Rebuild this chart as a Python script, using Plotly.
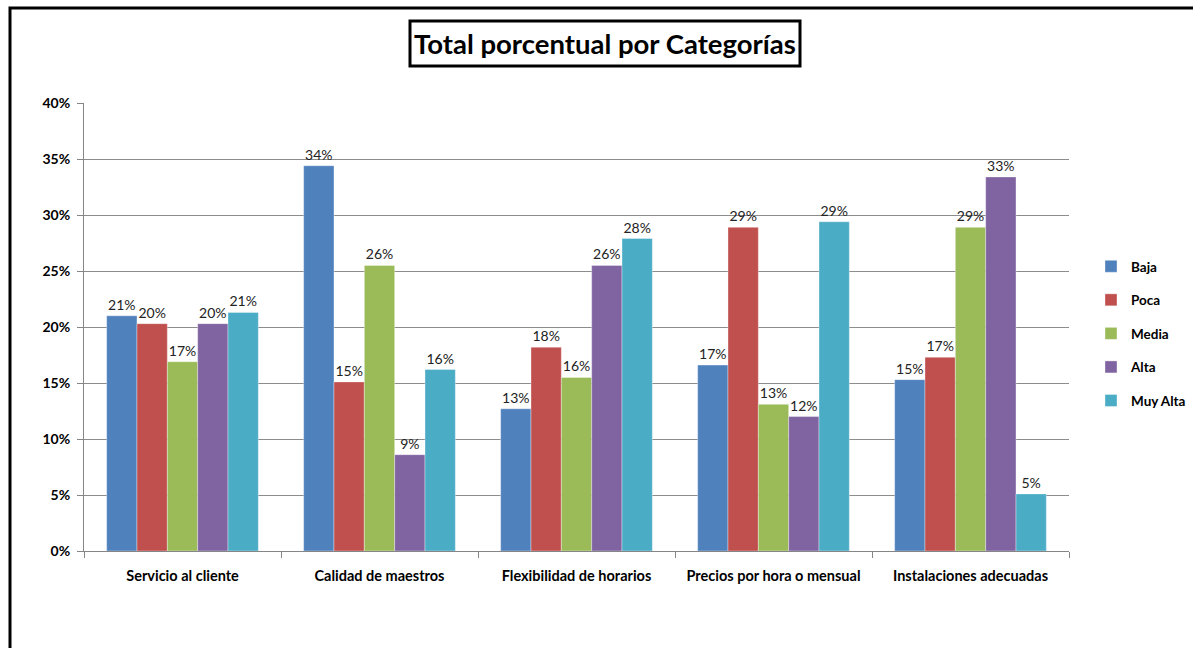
import plotly.graph_objects as go

categories = ["Servicio al cliente", "Calidad de maestros", "Flexibilidad de horarios",
              "Precios por hora o mensual", "Instalaciones adecuadas"]
series_names = ["Baja", "Poca", "Media", "Alta", "Muy Alta"]
baja = [0.210, 0.344, 0.127, 0.166, 0.153]
poca = [0.203, 0.151, 0.182, 0.289, 0.173]
media = [0.169, 0.255, 0.155, 0.131, 0.289]
alta = [0.203, 0.086, 0.255, 0.120, 0.334]
muy_alta = [0.213, 0.162, 0.279, 0.294, 0.051]
series_values = [baja, poca, media, alta, muy_alta]
colors = ["#4F81BD", "#C0504D", "#9BBB59", "#8064A2", "#4BACC6"]
y_ticks = [0, 0.05, 0.10, 0.15, 0.20, 0.25, 0.30, 0.35, 0.40]

FONT = "Lato, Liberation Sans, sans-serif"

fig = go.Figure()
for name, vals, col in zip(series_names, series_values, colors):
    fig.add_trace(go.Bar(
        x=categories, y=vals, name=name, legendgroup=name,
        marker=dict(color=col, line=dict(color="rgba(255,255,255,0.6)", width=0.6)),
        texttemplate="%{y:.0%}", textposition="outside", cliponaxis=False,
        textfont=dict(family=FONT, size=14, color="#222"),
    ))

W, H = 1193, 648
L, R, T, B = 84, 124, 103, 97
pw, ph = W - L - R, H - T - B

def px(x):
    return (x - L) / pw

def py(y):
    return (H - B - y) / ph

fig.update_layout(
    width=W, height=H,
    margin=dict(l=L, r=R, t=T, b=B, autoexpand=False),
    paper_bgcolor="white", plot_bgcolor="white",
    barmode="group", bargap=0.23, bargroupgap=0,
    font=dict(family=FONT, color="black"),
    showlegend=True,
    legend=dict(x=px(1091), y=py(251), xanchor="left", yanchor="top",
                font=dict(family=FONT, size=13.5, color="black", weight="bold"),
                tracegroupgap=13, itemwidth=30, traceorder="grouped"),
    xaxis=dict(showline=True, linecolor="#868686", linewidth=1,
               ticks="outside", ticklen=6, tickcolor="#868686", tickson="boundaries",
               tickangle=0, automargin=False, ticklabelstandoff=12,
               tickfont=dict(family=FONT, size=14.5, color="black", weight="bold"),
               showgrid=False),
    yaxis=dict(range=[0, 0.40], tickvals=y_ticks, tickformat=".0%",
               showline=True, linecolor="#868686", linewidth=1, automargin=False,
               ticks="outside", ticklen=6, tickcolor="#868686", ticklabelstandoff=4,
               gridcolor="#8c8c8c", gridwidth=1,
               tickfont=dict(family=FONT, size=14, color="black", weight="bold"),
               zeroline=False),
    shapes=[
        dict(type="rect", xref="paper", yref="paper",
             x0=px(10), x1=px(1215), y0=py(670), y1=py(8),
             line=dict(color="black", width=3), fillcolor="rgba(0,0,0,0)", layer="above"),
        dict(type="rect", xref="paper", yref="paper",
             x0=px(410), x1=px(800), y0=py(66), y1=py(21),
             line=dict(color="black", width=3), fillcolor="white"),
    ],
    annotations=[
        dict(text="Total porcentual por Categorías", xref="paper", yref="paper",
             x=px(605), y=py(44), xanchor="center", yanchor="middle", showarrow=False,
             font=dict(family=FONT, size=27.5, color="black", weight="bold")),
    ],
)

fig.write_html("out.html", config={"displayModeBar": False},
               post_script="document.body.style.margin='0';document.body.style.padding='0';")
